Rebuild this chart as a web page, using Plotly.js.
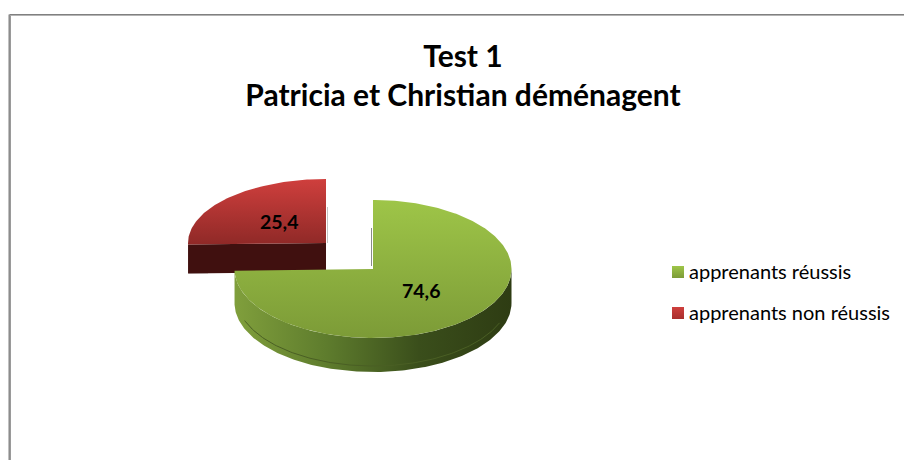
<!DOCTYPE html>
<html>
<head>
<meta charset="utf-8">
<script src="https://cdn.plot.ly/plotly-3.0.1.min.js"></script>
<style>html,body{margin:0;padding:0;background:#fff}#plot{width:904px;height:460px}</style>
</head>
<body>
<div id="plot"></div>
<script>
const categories = ["apprenants réussis", "apprenants non réussis"];
const values = [74.6, 25.4];
const valueLabels = ["74,6", "25,4"];
const titleLines = ["Test 1", "Patricia et Christian déménagent"];

const total = values[0] + values[1];
const FONT = "Lato, Carlito, Calibri, sans-serif";

// Fake 3D pie: each slice is an ellipse sector in pixel-like axes
const green = { cx: 373, cy: 269, rx: 138.5, ry: 69, depth: 34 };
const red = { cx: 326, cy: 243, rx: 138, ry: 64, depth: 29 };

// slice angles run clockwise from 12 o'clock
const greenEnd = (values[0] / total) * 360;

const px = (s, deg, f = 1) => s.cx + s.rx * f * Math.sin((deg * Math.PI) / 180);
const py = (s, deg, f = 1) => s.cy - s.ry * f * Math.cos((deg * Math.PI) / 180);

function arc(s, from, to, dy = 0) {
  const xs = [];
  const ys = [];
  const n = Math.ceil(Math.abs(to - from));
  for (let i = 0; i <= n; i++) {
    const a = from + ((to - from) * i) / n;
    xs.push(px(s, a));
    ys.push(py(s, a) + dy);
  }
  return { x: xs, y: ys };
}

function sector(s, from, to) {
  const a = arc(s, from, to);
  return { x: [s.cx, ...a.x, s.cx], y: [s.cy, ...a.y, s.cy] };
}

function wall(s, from, to) {
  const top = arc(s, from, to);
  const bottom = arc(s, to, from, s.depth);
  return { x: [...top.x, ...bottom.x, top.x[0]], y: [...top.y, ...bottom.y, top.y[0]] };
}

function fillTrace(pts, colors, type) {
  const stops = colors.map((c, i) => [i / (colors.length - 1), c]);
  return {
    x: pts.x,
    y: pts.y,
    type: "scatter",
    mode: "lines",
    fill: "toself",
    line: { width: 0 },
    fillgradient: { type: type, colorscale: stops },
    hoverinfo: "skip",
  };
}

// red slice
const redLeft = { x: px(red, greenEnd), y: py(red, greenEnd) };
const redFace = {
  x: [red.cx, redLeft.x, redLeft.x, red.cx, red.cx],
  y: [red.cy, redLeft.y, redLeft.y + red.depth, red.cy + red.depth, red.cy],
};
const traceRedFace = fillTrace(redFace, ["#40100f", "#40100f"], "horizontal");
// vertical gradient runs bottom to top on the reversed axis
const traceRedTop = fillTrace(sector(red, greenEnd, 360), ["#8f2927", "#cf3f3d"], "vertical");

// green slice
const traceGreenWall = fillTrace(
  wall(green, 90, greenEnd),
  ["#809f3c", "#5e7c2d", "#3a4e1b", "#2e3c13"],
  "horizontal",
);
const rim = arc({ ...green, rx: green.rx - 2 }, 112, 250, green.depth - 6);
const traceRim = {
  x: rim.x,
  y: rim.y,
  type: "scatter",
  mode: "lines",
  line: { color: "#4a5f24", width: 1 },
  hoverinfo: "skip",
};
const traceGreenTop = fillTrace(sector(green, 0, greenEnd), ["#7c9b37", "#9ec548"], "vertical");

// hand placed legend, the native swatch box can't go under 30px
const legendSwatchX = [678, 678];
const legendSwatchY = [272, 313];
const legendTextX = [689, 689];
const legendTextY = [273.5, 314.5];
const traceLegendSwatches = {
  x: legendSwatchX,
  y: legendSwatchY,
  type: "scatter",
  mode: "markers",
  marker: {
    symbol: "square",
    size: 12,
    color: ["#9ec548", "#cf3f3d"],
    gradient: { type: "vertical", color: ["#7c9b37", "#a82f2d"] },
  },
  hoverinfo: "skip",
};
const traceLegendText = {
  x: legendTextX,
  y: legendTextY,
  type: "scatter",
  mode: "text",
  text: categories,
  textposition: "middle right",
  textfont: { family: FONT, size: 20, color: "#000" },
  hoverinfo: "skip",
};

const labelAt = 0.48;
const annotations = [
  {
    x: px(green, greenEnd / 2, labelAt) + 1,
    y: py(green, greenEnd / 2, labelAt) - 2,
    text: `<b>${valueLabels[0]}</b>`,
  },
  {
    x: px(red, (greenEnd + 360) / 2, labelAt) + 1,
    y: py(red, (greenEnd + 360) / 2, labelAt),
    text: `<b>${valueLabels[1]}</b>`,
  },
].map((a) => ({ ...a, showarrow: false, font: { family: FONT, size: 19.5, color: "#000" } }));

const frameLine = (x0, y0, x1, y1, color) => ({
  type: "line",
  x0,
  y0,
  x1,
  y1,
  layer: "below",
  line: { color, width: 1 },
});

const layout = {
  width: 904,
  height: 460,
  margin: { l: 0, r: 0, t: 0, b: 0 },
  showlegend: false,
  paper_bgcolor: "#fff",
  plot_bgcolor: "#fff",
  title: {
    text: `<b>${titleLines[0]}<br>${titleLines[1]}</b>`,
    font: { family: FONT, size: 30, color: "#000" },
    x: 463 / 904,
    xanchor: "center",
    y: 0.8535,
    yanchor: "middle",
  },
  xaxis: { range: [0, 904], visible: false, fixedrange: true },
  yaxis: { range: [460, 0], visible: false, fixedrange: true },
  annotations,
  shapes: [
    frameLine(9.5, 14.5, 904, 14.5, "#808080"),
    frameLine(9.5, 15.5, 904, 15.5, "#b4b4b4"),
    frameLine(8.5, 14.5, 8.5, 460, "#c0c0c0"),
    frameLine(9.5, 14.5, 9.5, 460, "#8c8c8c"),
    frameLine(10.5, 15.5, 10.5, 460, "#9a9a9a"),
    // soft shadows next to the cut faces
    frameLine(371.5, 228, 371.5, 266, "#8a8a8a"),
    frameLine(327.5, 207, 327.5, 243, "#c4c4c4"),
    frameLine(188.5, 273, 208, 273, "#c4c4c4"),
  ],
};

Plotly.newPlot(
  "plot",
  [traceRedFace, traceRedTop, traceGreenWall, traceRim, traceGreenTop, traceLegendSwatches, traceLegendText],
  layout,
  { displayModeBar: false },
);
</script>
</body>
</html>
